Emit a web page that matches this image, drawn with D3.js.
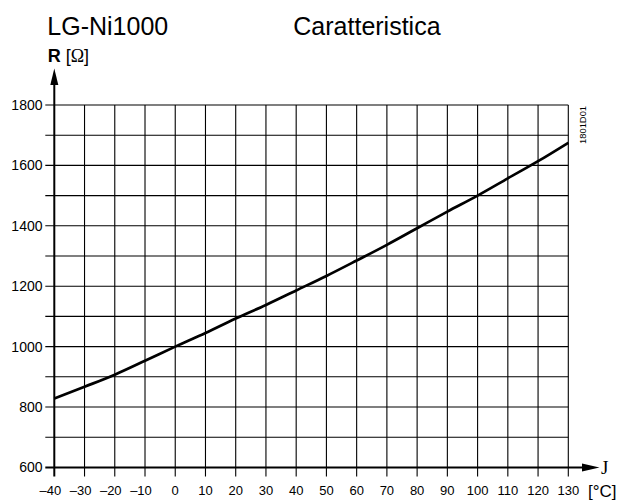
<!DOCTYPE html>
<html>
<head>
<meta charset="utf-8">
<script src="https://cdn.jsdelivr.net/npm/d3@7"></script>
<style>
  html, body { margin: 0; padding: 0; background: #fff; }
  svg { display: block; }
  text { font-family: "Liberation Sans", Arial, sans-serif; fill: #000; }
</style>
</head>
<body>
<svg id="chart" width="619" height="500"></svg>
<script>
// ---- data ----
const temperatures = [-40, -30, -20, -10, 0, 10, 20, 30, 40, 50, 60, 70, 80, 90, 100, 110, 120, 130];
const resistance   = [828, 867, 907, 953, 1000, 1045, 1093, 1138, 1186, 1234, 1285, 1337, 1392, 1447, 1500, 1557, 1614, 1675];
const xTickValues  = [-40, -30, -20, -10, 0, 10, 20, 30, 40, 50, 60, 70, 80, 90, 100, 110, 120, 130];
const yGridValues  = [600, 700, 800, 900, 1000, 1100, 1200, 1300, 1400, 1500, 1600, 1700, 1800];
const yLabelValues = [600, 800, 1000, 1200, 1400, 1600, 1800];
const titleLeft = "LG-Ni1000";
const titleRight = "Caratteristica";
const docCode = "1801D01";

// ---- layout ----
const svg = d3.select("#chart");
const x = d3.scaleLinear().domain([-40, 130]).range([54.3, 568.3]);
const y = d3.scaleLinear().domain([600, 1800]).range([467.4, 105]);
const tickExt = 9;

// horizontal grid lines (with left tick)
svg.append("g").selectAll("line").data(yGridValues.filter(v => v !== 600)).join("line")
  .attr("x1", x(-40) - tickExt).attr("x2", x(130))
  .attr("y1", d => y(d)).attr("y2", d => y(d))
  .attr("stroke", "#000").attr("stroke-width", 1.1);

// vertical grid lines (with bottom tick)
svg.append("g").selectAll("line").data(xTickValues.filter(v => v !== -40)).join("line")
  .attr("x1", d => x(d)).attr("x2", d => x(d))
  .attr("y1", y(1800)).attr("y2", y(600) + tickExt)
  .attr("stroke", "#000").attr("stroke-width", 1.1);

// x axis with arrow
const xArrowBase = 582, xArrowTip = 599.5;
svg.append("line")
  .attr("x1", x(-40) - tickExt).attr("x2", xArrowBase)
  .attr("y1", y(600)).attr("y2", y(600))
  .attr("stroke", "#000").attr("stroke-width", 2);
svg.append("path")
  .attr("d", `M${xArrowBase},${y(600) - 4}L${xArrowTip},${y(600)}L${xArrowBase},${y(600) + 4}Z`)
  .attr("fill", "#000");

// y axis with arrow
const yArrowBase = 85, yArrowTip = 68.5;
svg.append("line")
  .attr("x1", x(-40)).attr("x2", x(-40))
  .attr("y1", y(600) + tickExt).attr("y2", yArrowBase)
  .attr("stroke", "#000").attr("stroke-width", 2);
svg.append("path")
  .attr("d", `M${x(-40) - 4},${yArrowBase}L${x(-40)},${yArrowTip}L${x(-40) + 4},${yArrowBase}Z`)
  .attr("fill", "#000");

// curve
const line = d3.line().x((d, i) => x(temperatures[i])).y(d => y(d)).curve(d3.curveMonotoneX);
svg.append("path")
  .attr("d", line(resistance))
  .attr("fill", "none").attr("stroke", "#000").attr("stroke-width", 2.7)
  .attr("stroke-linecap", "butt");

// y labels
svg.append("g").selectAll("text").data(yLabelValues).join("text")
  .attr("x", 42.5).attr("y", d => y(d) + 5)
  .attr("text-anchor", "end").attr("font-size", "14px")
  .text(d => d);

// x labels
svg.append("g").selectAll("text").data(xTickValues).join("text")
  .attr("x", d => x(d) + (d < 0 ? -4 : 0)).attr("y", 494.5)
  .attr("text-anchor", "middle").attr("font-size", "13px")
  .text(d => d < 0 ? "\u2013" + Math.abs(d) : String(d));

// unit labels
svg.append("text").attr("x", 601).attr("y", 473.5)
  .style("font-family", "'Liberation Serif', serif")
  .attr("font-size", "19px").text("J");
svg.append("text").attr("x", 588).attr("y", 496.5)
  .attr("font-size", "17px").text("[°C]");

const rLabel = svg.append("text").attr("x", 47.7).attr("y", 61.7).attr("font-size", "18px");
rLabel.append("tspan").attr("font-weight", "bold").text("R");
rLabel.append("tspan").text(" [");
rLabel.append("tspan").style("font-family", "'Liberation Serif', serif").text("Ω");
rLabel.append("tspan").text("]");

// titles
svg.append("text").attr("x", 47.3).attr("y", 35).attr("font-size", "25px").text(titleLeft);
svg.append("text").attr("x", 293.3).attr("y", 35).attr("font-size", "25px").text(titleRight);

// document code
svg.append("text")
  .attr("transform", "translate(585.8,144) rotate(-90)")
  .attr("font-size", "9.4px").text(docCode);
</script>
</body>
</html>
